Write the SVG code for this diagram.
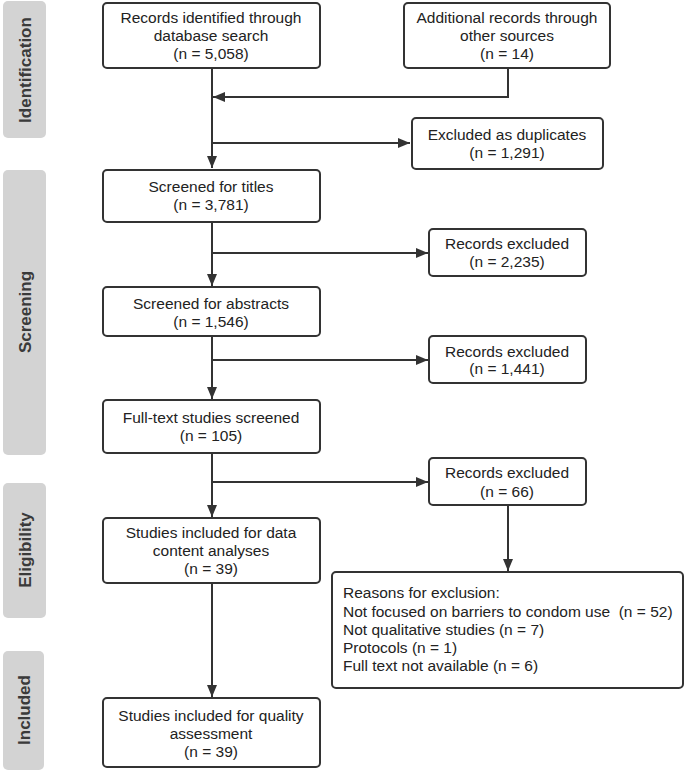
<svg xmlns="http://www.w3.org/2000/svg" width="685" height="772" viewBox="0 0 685 772">
<style>
.bg{fill:#ffffff}
.side{fill:#d3d3d3}
.sl{font-family:"Liberation Sans",Arial,sans-serif;font-size:17px;font-weight:bold;fill:#3a3a3a;text-anchor:middle}
.box{fill:#ffffff;stroke:#333333;stroke-width:2}
.t{font-family:"Liberation Sans",Arial,sans-serif;font-size:15.5px;fill:#222222;text-anchor:middle}
.tl{font-family:"Liberation Sans",Arial,sans-serif;font-size:15.5px;fill:#222222}
.c{fill:none;stroke:#333333;stroke-width:2}
</style>
<defs>
<marker id="ah" viewBox="0 0 12 10" refX="12" refY="5" markerWidth="12" markerHeight="10" markerUnits="userSpaceOnUse" orient="auto">
<path d="M0,0 L12,5 L0,10 Z" fill="#333333"/>
</marker>
</defs>
<rect class="bg" x="0" y="0" width="685" height="772"/>
<g id="side-identification">
<rect class="side" x="3" y="1" width="43" height="137" rx="5"/>
<text class="sl" transform="translate(31,70) rotate(-90)">Identification</text>
</g>
<g id="side-screening">
<rect class="side" x="3" y="170" width="43" height="285" rx="5"/>
<text class="sl" transform="translate(31,312) rotate(-90)">Screening</text>
</g>
<g id="side-eligibility">
<rect class="side" x="3" y="483" width="43" height="135" rx="5"/>
<text class="sl" transform="translate(31,550) rotate(-90)">Eligibility</text>
</g>
<g id="side-included">
<rect class="side" x="3" y="651" width="41" height="119" rx="5"/>
<text class="sl" transform="translate(30,710) rotate(-90)">Included</text>
</g>
<g id="connectors">
<path class="c" d="M212,68 V168" marker-end="url(#ah)"/>
<path class="c" d="M508,68 V97 H213" marker-end="url(#ah)"/>
<path class="c" d="M212,143 H410" marker-end="url(#ah)"/>
<path class="c" d="M212,222 V286" marker-end="url(#ah)"/>
<path class="c" d="M212,253 H428" marker-end="url(#ah)"/>
<path class="c" d="M212,336 V399" marker-end="url(#ah)"/>
<path class="c" d="M212,360 H428" marker-end="url(#ah)"/>
<path class="c" d="M212,453 V517" marker-end="url(#ah)"/>
<path class="c" d="M212,482 H428" marker-end="url(#ah)"/>
<path class="c" d="M508,505 V571" marker-end="url(#ah)"/>
<path class="c" d="M212,583 V697" marker-end="url(#ah)"/>
</g>
<g id="n-database">
<rect class="box" x="103" y="3" width="217" height="65" rx="4"/>
<text class="t" x="211" y="23">Records identified through</text>
<text class="t" x="211" y="41">database search</text>
<text class="t" x="211" y="59">(n = 5,058)</text>
</g>
<g id="n-other">
<rect class="box" x="404" y="3" width="206" height="65" rx="4"/>
<text class="t" x="507" y="23">Additional records through</text>
<text class="t" x="507" y="41">other sources</text>
<text class="t" x="507" y="59">(n = 14)</text>
</g>
<g id="n-duplicates">
<rect class="box" x="412" y="118" width="191" height="51" rx="4"/>
<text class="t" x="507" y="140">Excluded as duplicates</text>
<text class="t" x="507" y="158">(n = 1,291)</text>
</g>
<g id="n-titles">
<rect class="box" x="103" y="170" width="217" height="52" rx="4"/>
<text class="t" x="211" y="192">Screened for titles</text>
<text class="t" x="211" y="210">(n = 3,781)</text>
</g>
<g id="n-excl1">
<rect class="box" x="429" y="229" width="157" height="47" rx="4"/>
<text class="t" x="507" y="249">Records excluded</text>
<text class="t" x="507" y="267">(n = 2,235)</text>
</g>
<g id="n-abstracts">
<rect class="box" x="103" y="287" width="217" height="49" rx="4"/>
<text class="t" x="211" y="309">Screened for abstracts</text>
<text class="t" x="211" y="327">(n = 1,546)</text>
</g>
<g id="n-excl2">
<rect class="box" x="429" y="336" width="157" height="47" rx="4"/>
<text class="t" x="507" y="357">Records excluded</text>
<text class="t" x="507" y="374">(n = 1,441)</text>
</g>
<g id="n-fulltext">
<rect class="box" x="103" y="400" width="217" height="53" rx="4"/>
<text class="t" x="211" y="423">Full-text studies screened</text>
<text class="t" x="211" y="441">(n = 105)</text>
</g>
<g id="n-excl3">
<rect class="box" x="429" y="458" width="157" height="47" rx="4"/>
<text class="t" x="507" y="478">Records excluded</text>
<text class="t" x="507" y="497">(n = 66)</text>
</g>
<g id="n-data">
<rect class="box" x="103" y="518" width="217" height="65" rx="4"/>
<text class="t" x="211" y="538">Studies included for data</text>
<text class="t" x="211" y="556">content analyses</text>
<text class="t" x="211" y="574">(n = 39)</text>
</g>
<g id="n-reasons">
<rect class="box" x="332" y="572" width="351" height="116" rx="4"/>
<text class="tl" x="343" y="598">Reasons for exclusion:</text>
<text class="tl" x="343" y="617" xml:space="preserve">Not focused on barriers to condom use  (n = 52)</text>
<text class="tl" x="343" y="635">Not qualitative studies (n = 7)</text>
<text class="tl" x="343" y="653">Protocols (n = 1)</text>
<text class="tl" x="343" y="671">Full text not available (n = 6)</text>
</g>
<g id="n-quality">
<rect class="box" x="103" y="698" width="217" height="69" rx="4"/>
<text class="t" x="211" y="721">Studies included for quality</text>
<text class="t" x="211" y="739">assessment</text>
<text class="t" x="211" y="757">(n = 39)</text>
</g>
</svg>
